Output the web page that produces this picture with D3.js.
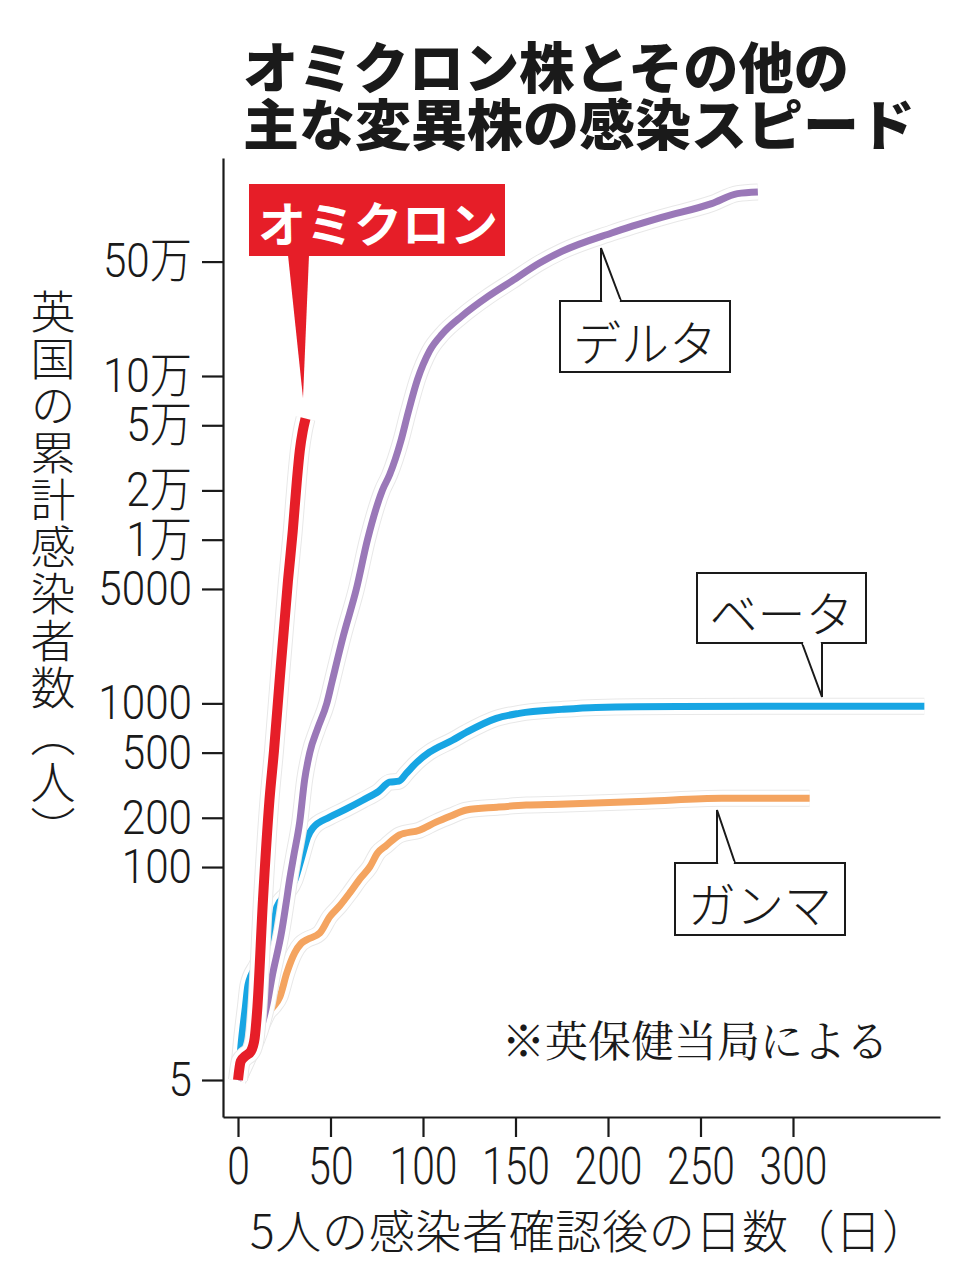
<!DOCTYPE html>
<html>
<head>
<meta charset="utf-8">
<script src="https://cdn.jsdelivr.net/npm/d3@7"></script>
<style>
  body { margin: 0; background: #fff; }
  svg { display: block; }
</style>
</head>
<body>
<svg id="chart" width="968" height="1280"></svg>
<script>
// --- data (days since 5 cases, cumulative cases) ---
const xTicks = [0, 50, 100, 150, 200, 250, 300];
const yTicks = [5, 100, 200, 500, 1000, 5000, 10000, 20000, 50000, 100000, 500000];
const yTickLabels = ["5", "100", "200", "500", "1000", "5000", "1万", "2万", "5万", "10万", "50万"];

const omicronDays  = [0, 1.5, 4, 7, 9, 10.5, 13.5, 17, 19.5, 22.5, 27, 29.6, 31.8, 33.4, 35, 36.5];
const omicronCases = [5, 6.5, 7, 7.5, 9, 14, 63, 256, 520, 1380, 5600, 11300, 22800, 35000, 46000, 55000];

const deltaDays  = [0, 6, 12, 16, 18.3, 23.7, 26, 28, 30, 33.4, 36, 38.8, 43, 48, 51, 57, 64, 70, 78, 82, 88, 92, 97,
                    103.5, 110.5, 121, 135, 148, 163, 175, 202, 229, 256, 270, 281];
const deltaCases = [5, 7, 10, 15, 21, 41, 60, 85, 115, 190, 340, 500, 700, 1000, 1380, 2600, 5000, 10000, 20000, 25000,
                    40000, 60000, 95000, 142000, 181000, 232000, 305000, 380000, 490000, 577000, 748000, 930000,
                    1130000, 1300000, 1330000];

const betaDays  = [0, 2, 4, 5.4, 10, 15, 19, 21, 26, 30.7, 34, 37.7, 40.4, 49.6, 58, 67.4, 76, 81.9, 87, 91.1, 97,
                   103.5, 115.9, 123.5, 139.6, 152, 175, 193.5, 238, 371];
const betaCases = [5, 9, 14, 19, 25, 32, 41, 57, 68, 83, 110, 153, 173, 202, 225, 256, 290, 330, 335, 375, 440,
                   503, 595, 666, 810, 869, 919, 945, 958, 960];

const gammaDays  = [0, 8, 14, 16.2, 19, 22.6, 26.4, 30.7, 34, 37.2, 44.2, 49.6, 55, 60.4, 66, 71.2, 75.5, 80, 87.3,
                    98, 107, 115, 123.5, 140, 155.8, 173.6, 220.5, 261.5, 309];
const gammaCases = [5, 8, 11.5, 12.9, 14, 16.1, 22.6, 30, 34, 36, 39.5, 49.7, 58, 69.5, 85, 100, 122, 135, 157,
                    168, 188, 205, 223, 232, 239, 242, 252, 263, 263];

const JP = "'Noto Sans CJK JP', sans-serif";
const NUM = "Roboto, 'Noto Sans CJK JP', sans-serif";

const svg = d3.select("#chart");
svg.append("rect").attr("width", 968).attr("height", 1280).attr("fill", "#fff");

// scales: fix the known ticks, then stretch the domain to the axis ends
const xScale = d3.scaleLinear().domain([0, 300]).range([238, 793]);
xScale.domain([xScale.invert(223), xScale.invert(940)]).range([223, 940]);

const yScale = d3.scaleLog().domain([5, 100000]).range([1080, 376]);
yScale.domain([yScale.invert(1117), yScale.invert(158)]).range([1117, 158]);

// title
const title = svg.append("g")
  .attr("font-family", JP)
  .attr("font-weight", 900)
  .attr("font-size", 55)
  .attr("fill", "#1a1a1a");
title.append("text").attr("x", 243).attr("y", 88).attr("textLength", 606).attr("lengthAdjust", "spacingAndGlyphs")
  .text("オミクロン株とその他の");
title.append("text").attr("x", 243).attr("y", 145).attr("textLength", 672).attr("lengthAdjust", "spacingAndGlyphs")
  .text("主な変異株の感染スピード");

// squeeze numeric labels like the condensed face of the original
function squeeze(sel, k) {
  sel.each(function () {
    const w = this.getComputedTextLength();
    this.setAttribute("textLength", w * k);
    this.setAttribute("lengthAdjust", "spacingAndGlyphs");
  });
}

// axes
const xAxis = d3.axisBottom(xScale)
  .tickValues(xTicks)
  .tickSize(20)
  .tickSizeOuter(0)
  .tickPadding(11);
const gx = svg.append("g")
  .attr("transform", "translate(0,1117)")
  .call(xAxis);
gx.selectAll("text")
  .attr("font-family", NUM)
  .attr("font-weight", 300)
  .attr("font-size", 51)
  .attr("fill", "#1a1a1a")
  .call(squeeze, 0.8);

const yAxis = d3.axisLeft(yScale)
  .tickValues(yTicks)
  .tickFormat((d, i) => yTickLabels[i])
  .tickSize(21)
  .tickSizeOuter(0)
  .tickPadding(10);
const gy = svg.append("g")
  .attr("transform", "translate(223,0)")
  .call(yAxis);
gy.selectAll("text")
  .attr("font-family", NUM)
  .attr("font-weight", 300)
  .attr("font-size", 48)
  .attr("fill", "#1a1a1a")
  .call(squeeze, 0.88);

svg.selectAll(".domain, .tick line")
  .attr("stroke", "#1a1a1a")
  .attr("stroke-width", 2.2);

// axis titles
svg.append("text")
  .attr("x", 53)
  .attr("y", 289)
  .attr("font-family", JP)
  .attr("font-weight", 300)
  .attr("font-size", 45)
  .attr("fill", "#1a1a1a")
  .style("writing-mode", "vertical-rl")
  .attr("letter-spacing", 2)
  .text("英国の累計感染者数（人）");

svg.append("text")
  .attr("x", 250)
  .attr("y", 1248)
  .attr("font-family", JP)
  .attr("font-weight", 300)
  .attr("font-size", 46)
  .attr("fill", "#1a1a1a")
  .attr("textLength", 678)
  .attr("lengthAdjust", "spacing")
  .text("5人の感染者確認後の日数（日）");

svg.append("text")
  .attr("x", 502)
  .attr("y", 1057)
  .attr("font-family", "'Noto Serif CJK JP', 'Noto Sans CJK JP', serif")
  .attr("font-size", 43)
  .attr("fill", "#1a1a1a")
  .text("※英保健当局による");

// series lines with white halo, drawn bottom to top
const line = d3.line()
  .x(d => xScale(d[0]))
  .y(d => yScale(d[1]))
  .curve(d3.curveMonotoneX);

function drawSeries(days, cases, color, width) {
  const pts = days.map((d, i) => [d, cases[i]]);
  const g = svg.append("g").attr("fill", "none").attr("stroke-linejoin", "round").attr("stroke-linecap", "butt");
  g.append("path").attr("d", line(pts)).attr("stroke", "#e8e8e8").attr("stroke-width", width + 10);
  g.append("path").attr("d", line(pts)).attr("stroke", "#fff").attr("stroke-width", width + 8);
  g.append("path").attr("d", line(pts)).attr("stroke", color).attr("stroke-width", width);
}

drawSeries(gammaDays, gammaCases, "#f4a460", 7);
drawSeries(betaDays, betaCases, "#17a5e3", 7);
drawSeries(deltaDays, deltaCases, "#9a78b8", 7);
drawSeries(omicronDays, omicronCases, "#e61e28", 10);

// omicron label
svg.append("rect")
  .attr("x", 249).attr("y", 184).attr("width", 256).attr("height", 72)
  .attr("fill", "#e61e28");
svg.append("path")
  .attr("d", "M288,255 L309,255 L303,398 Z")
  .attr("fill", "#e61e28");
svg.append("text")
  .attr("x", 378).attr("y", 221)
  .attr("text-anchor", "middle")
  .attr("dominant-baseline", "central")
  .attr("font-family", JP)
  .attr("font-weight", 700)
  .attr("font-size", 48)
  .attr("fill", "#fff")
  .text("オミクロン");

// callouts
const callouts = [
  { text: "デルタ", x: 560, y: 301, w: 170, h: 71, base: [601, 621], tip: [601, 248], side: "top" },
  { text: "ベータ", x: 697, y: 573, w: 169, h: 70, base: [802, 822], tip: [822, 697], side: "bottom" },
  { text: "ガンマ", x: 675, y: 863, w: 170, h: 72, base: [717, 735], tip: [717, 810], side: "top" }
];

callouts.forEach(c => {
  const g = svg.append("g");
  g.append("rect")
    .attr("x", c.x).attr("y", c.y).attr("width", c.w).attr("height", c.h)
    .attr("fill", "#fff").attr("stroke", "#1a1a1a").attr("stroke-width", 2);
  const edge = c.side === "top" ? c.y : c.y + c.h;
  g.append("path")
    .attr("d", `M${c.base[0]},${edge} L${c.tip[0]},${c.tip[1]} L${c.base[1]},${edge}`)
    .attr("fill", "#fff").attr("stroke", "#1a1a1a").attr("stroke-width", 2)
    .attr("stroke-linejoin", "miter");
  g.append("line")
    .attr("x1", c.base[0] + 1.2).attr("x2", c.base[1] - 1.2)
    .attr("y1", edge).attr("y2", edge)
    .attr("stroke", "#fff").attr("stroke-width", 3.5);
  g.append("text")
    .attr("x", c.x + c.w / 2).attr("y", c.y + c.h / 2 + 3)
    .attr("text-anchor", "middle")
    .attr("dominant-baseline", "central")
    .attr("font-family", JP)
    .attr("font-weight", 300)
    .attr("font-size", 48)
    .attr("fill", "#1a1a1a")
    .text(c.text);
});
</script>
</body>
</html>
